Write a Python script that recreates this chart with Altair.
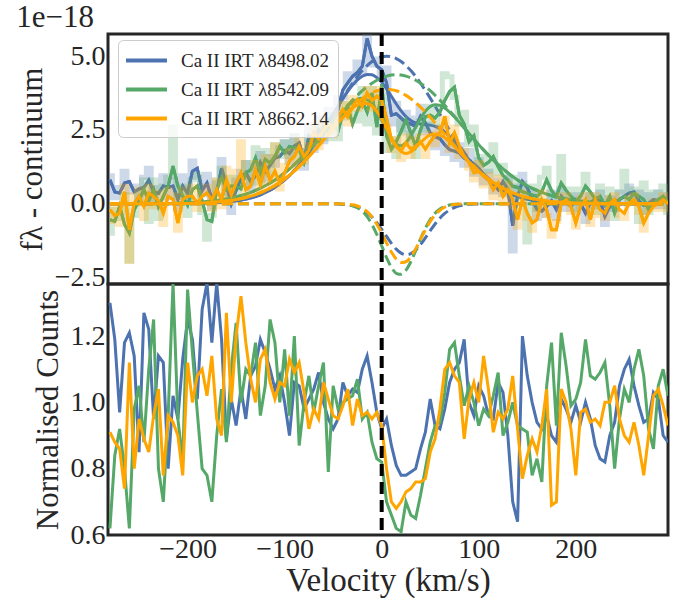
import altair as alt
import pandas as pd

LABELS = ["Ca II IRT λ8498.02", "Ca II IRT λ8542.09", "Ca II IRT λ8662.14"]
COLORS = ["#4C72B0", "#55A868", "#FFA500"]
FONT = "Liberation Serif"
INK = "#262626"

# velocity grid of the measured spectra (km/s)
V_DATA = list(range(-280, 300, 5))
# velocity grid of the fitted curves
V_FIT = list(range(-280, -50, 10)) + list(range(-55, 100, 5)) + list(range(100, 300, 10))
ZERO_LINE = [0]

# ---------------- top panel: flux - continuum (x 1e-18) ----------------
TOP_BLUE = [0.81, 0.40, 0.36, 0.70, 0.75, 0.40, 0.50, 0.55, 0.80, 0.40,
            0.35, 0.60, 0.55, 0.60, 0.15, 0.60, 0.35, 1.10, 1.20, 0.45,
            0.70, 0.15, 0.40, 1.20, 0.65, 0.00, 0.45, 0.85, 1.05, 0.75,
            0.95, 1.40, 1.10, 1.30, 1.55, 1.60, 1.80, 1.70, 1.95, 2.06,
            1.49, 2.28, 2.10, 2.51, 2.35, 2.85, 2.70, 3.19, 3.86, 4.09,
            4.32, 4.45, 4.66, 5.60, 5.00, 4.66, 4.54, 4.09, 3.00, 3.05,
            2.90, 2.75, 2.70, 2.62, 2.96, 2.74, 2.40, 2.28, 2.20, 2.00,
            1.83, 1.78, 1.72, 1.55, 1.45, 1.35, 1.20, 1.00, 0.85, 0.70,
            0.48, 0.75, 0.50, -0.75, 0.25, 0.75, 0.55, 0.14, -0.20, -0.25,
            -0.09, 0.10, -0.20, 0.25, 0.05, -0.09, 0.14, 0.00, -0.32, 0.05,
            0.14, 0.10, -0.43, -0.09, 0.05, 0.14, 0.25, 0.36, 0.40, 0.10,
            -0.05, 0.02, 0.14, 0.10, 0.14, 0.05]
TOP_GREEN = [-0.54, -0.60, -0.09, -0.70, -0.99, -0.20, 0.10, 0.48, 0.10, 0.48,
             -0.10, 0.25, 0.60, 1.27, 0.60, 0.25, -0.05, 0.48, 0.60, 0.10,
             -0.54, -0.60, 0.48, 0.90, 0.48, 0.60, 0.59, 0.50, 1.04, 1.15,
             1.55, 1.04, 1.50, 1.38, 1.60, 1.94, 1.72, 1.94, 1.90, 1.85,
             1.40, 1.95, 2.40, 2.10, 2.60, 2.45, 2.80, 2.45, 3.05, 3.30,
             2.70, 3.15, 3.50, 3.10, 3.75, 2.60, 4.05, 2.30, 1.85, 2.10,
             2.45, 2.85, 2.40, 1.95, 2.50, 2.95, 3.00, 2.90, 3.10, 3.50,
             3.80, 3.95, 3.00, 2.70, 2.10, 2.30, 1.55, 1.30, 1.40, 1.60,
             1.25, 0.95, 0.80, 0.59, 0.55, 0.40, 0.36, 0.30, 0.25, 0.40,
             0.81, 0.45, 0.25, 0.70, 0.45, 0.25, 0.10, 0.25, 0.60, 0.40,
             0.15, 0.25, -0.05, 0.25, -0.32, 0.14, 0.25, 0.14, 0.36, 0.25,
             0.14, -0.20, 0.02, 0.14, 0.25, 0.02]
TOP_ORANGE = [-0.20, -0.40, -0.32, 0.40, -0.88, 0.02, 0.25, -0.09, 0.36, 0.25,
              0.10, -0.32, 0.25, 0.14, -0.65, 0.14, 0.25, 0.25, 0.02, 0.25,
              0.36, 0.14, 0.48, 0.14, 0.81, 0.30, 0.70, 1.04, 0.48, 0.59,
              1.15, 0.65, 1.27, 0.80, 1.10, 0.70, 1.04, 1.45, 1.60, 1.94,
              1.60, 1.80, 2.40, 2.20, 2.50, 2.74, 2.55, 2.90, 3.19, 2.95,
              3.30, 3.53, 3.30, 3.75, 3.50, 3.64, 3.50, 2.90, 2.17, 1.94,
              1.80, 2.06, 1.85, 1.95, 2.10, 1.85, 2.10, 2.30, 2.40, 2.96,
              2.06, 2.40, 1.95, 1.60, 1.40, 1.05, 1.10, 0.93, 0.81, 0.48,
              0.70, 0.25, 0.48, 0.14, -0.54, 0.14, -0.32, -0.65, -0.54, 0.14,
              -0.20, -0.88, -0.88, 0.02, 0.14, -0.09, -0.65, -0.09, 0.14, -0.54,
              0.14, -0.20, -0.32, 0.02, 0.14, -0.20, -0.32, 0.02, 0.14, -0.09,
              -0.65, -0.32, -0.09, 0.02, 0.14, 0.00]

# faint, unbinned spectra (same velocity grid, drawn as steps)
RAW_BLUE = [0.95, 0.20, 0.55, 1.10, 0.40, 0.60, 0.15, 0.90, 1.20, 0.10,
            0.55, 0.95, 0.20, 0.85, -0.20, 0.95, 0.15, 1.45, 0.90, 0.30,
            1.00, -0.15, 0.70, 1.50, 0.35, -0.30, 0.80, 1.10, 1.40, 0.50,
            1.30, 1.70, 0.80, 1.60, 1.30, 1.90, 2.10, 1.40, 2.30, 1.80,
            1.20, 2.60, 1.80, 2.90, 2.10, 3.20, 2.40, 3.60, 3.60, 4.40,
            4.10, 4.80, 4.40, 5.70, 4.70, 4.90, 4.30, 4.60, 2.70, 3.40,
            2.50, 3.10, 2.30, 2.90, 3.30, 2.40, 2.70, 1.90, 2.60, 1.70,
            2.20, 1.50, 2.00, 1.30, 1.80, 1.00, 1.50, 0.70, 1.10, 0.40,
            0.80, 0.30, 0.90, -1.60, 0.60, 1.00, 0.20, 0.40, -0.50, 0.10,
            -0.40, 0.40, -0.50, 0.50, -0.20, 0.30, -0.30, 0.30, -0.60, 0.30,
            -0.10, 0.40, -0.70, 0.20, -0.20, 0.40, 0.00, 0.60, 0.10, 0.40,
            -0.30, 0.30, -0.10, 0.40, -0.10, 0.30]
RAW_GREEN = [-1.00, -0.20, -0.50, 0.30, -1.95, -0.40, 0.40, 0.80, -0.60, 0.80,
             -0.50, 0.60, 0.90, 2.60, 0.20, 0.60, -0.40, 0.80, 1.00, -0.30,
             -1.20, -0.40, 0.80, 1.20, 0.10, 0.90, 0.20, 0.90, 1.40, 0.70,
             1.90, 0.70, 1.80, 1.00, 2.00, 1.60, 2.10, 1.60, 2.30, 1.50,
             1.80, 2.30, 2.00, 2.60, 2.80, 2.20, 3.00, 2.20, 3.40, 2.90,
             3.10, 2.80, 3.90, 2.70, 3.90, 2.40, 3.80, 1.80, 2.20, 1.60,
             2.80, 2.40, 2.10, 1.60, 2.80, 2.50, 3.30, 2.70, 3.30, 4.40,
             4.30, 3.60, 2.70, 3.10, 2.00, 2.60, 1.30, 1.60, 1.10, 2.00,
             1.00, 1.30, 0.40, 0.90, 0.20, 0.70, -1.30, 0.60, -0.20, 0.90,
             1.20, 0.00, 0.30, 1.60, 0.10, 0.50, -0.20, 0.50, 1.00, 0.20,
             -0.30, 0.60, 0.20, 0.50, -0.50, 0.40, 1.10, 0.00, 0.50, -0.60,
             0.70, -0.30, 0.40, 0.20, 0.60, -0.30]
RAW_ORANGE = [-0.60, -0.10, -0.70, 0.60, -1.95, 0.30, 0.50, -0.50, 0.60, -0.10,
              0.40, -0.70, 0.50, 0.30, -0.90, 0.50, 0.30, 0.60, -0.20, 0.40,
              0.60, -0.20, 0.80, -0.10, 1.20, 0.10, 1.10, 2.10, 0.30, 0.90,
              1.40, 0.40, 1.60, 0.60, 2.00, 0.50, 1.30, 1.80, 1.20, 2.20,
              1.40, 2.00, 2.70, 1.90, 2.80, 2.50, 2.30, 3.10, 3.40, 2.70,
              3.60, 3.20, 3.50, 3.90, 3.20, 3.90, 3.20, 2.60, 1.80, 2.20,
              1.50, 2.30, 1.60, 2.20, 2.30, 1.60, 2.40, 2.00, 2.60, 2.90,
              1.80, 2.60, 1.60, 1.80, 1.20, 0.80, 1.40, 0.60, 1.00, 0.20,
              0.90, 0.00, 0.70, -0.10, -0.80, 0.40, -0.50, -0.90, -0.20, 0.40,
              -0.40, -1.10, -0.60, 0.30, 0.30, -0.30, -0.80, 0.20, 0.30, -0.70,
              0.30, -0.40, -0.50, 0.20, 0.30, -0.40, -0.50, 0.20, 0.30, -0.30,
              -0.90, -0.10, 0.10, -0.20, 0.30, -0.20]

# fitted curves: total model, emission component, absorption component
FIT_BLUE = [0, 0, 0, 0, 0, 0.001, 0.001, 0.002, 0.005, 0.009, 0.017, 0.032, 0.056,
            0.094, 0.155, 0.246, 0.378, 0.562, 0.808, 1.125, 1.515, 1.973, 2.487,
            2.756, 3.029, 3.298, 3.559, 3.802, 4.017, 4.194, 4.318, 4.377, 4.366,
            4.274, 4.112, 3.893, 3.639, 3.379, 3.145, 2.95, 2.817, 2.737, 2.699,
            2.683, 2.662, 2.62, 2.544, 2.428, 2.277, 2.096, 1.899, 1.696, 1.494, 1.301,
            1.12, 0.807, 0.562, 0.378, 0.246, 0.155, 0.094, 0.056, 0.032, 0.017,
            0.009, 0.005, 0.002, 0.001, 0, 0, 0, 0, 0, 0]
EMI_BLUE = [0, 0, 0, 0, 0, 0.001, 0.001, 0.002, 0.005, 0.009, 0.017, 0.032, 0.056,
            0.094, 0.155, 0.246, 0.378, 0.562, 0.808, 1.125, 1.515, 1.973, 2.488,
            2.758, 3.033, 3.307, 3.577, 3.838, 4.083, 4.309, 4.51, 4.68, 4.82,
            4.918, 4.98, 5.0, 4.98, 4.918, 4.82, 4.68, 4.51, 4.309, 4.083,
            3.838, 3.577, 3.307, 3.033, 2.758, 2.488, 2.224, 1.973, 1.736, 1.515, 1.311,
            1.125, 0.808, 0.562, 0.378, 0.246, 0.155, 0.094, 0.056, 0.032, 0.017,
            0.009, 0.005, 0.002, 0.001, 0, 0, 0, 0, 0, 0]
ABS_BLUE = [0, 0, 0, 0, 0, 0, 0, 0, 0, 0, 0, 0, 0,
            0, 0, 0, 0, 0, 0, 0, 0, 0, -0.001,
            -0.002, -0.004, -0.009, -0.018, -0.036, -0.066, -0.115, -0.192, -0.303, -0.454,
            -0.644, -0.868, -1.107, -1.341, -1.539, -1.675, -1.73, -1.693, -1.572, -1.384,
            -1.155, -0.915, -0.687, -0.489, -0.33, -0.211, -0.128, -0.074, -0.04, -0.021, -0.01,
            -0.005, -0.001, 0, 0, 0, 0, 0, 0, 0, 0,
            0, 0, 0, 0, 0, 0, 0, 0, 0, 0]
FIT_GREEN = [0.0, 0.001, 0.001, 0.002, 0.004, 0.007, 0.011, 0.018, 0.03, 0.046, 0.072, 0.108, 0.159,
             0.23, 0.324, 0.449, 0.609, 0.806, 1.045, 1.326, 1.647, 2.0, 2.377,
             2.569, 2.763, 2.954, 3.134, 3.303, 3.441, 3.537, 3.572, 3.524, 3.38,
             3.142, 2.837, 2.5, 2.206, 2.014, 1.966, 2.071, 2.3, 2.592, 2.89,
             3.134, 3.292, 3.354, 3.332, 3.243, 3.104, 2.94, 2.757, 2.567, 2.376, 2.187,
             2.0, 1.647, 1.326, 1.045, 0.806, 0.609, 0.449, 0.324, 0.23, 0.159,
             0.108, 0.072, 0.046, 0.03, 0.018, 0.011, 0.007, 0.004, 0.002, 0.001]
EMI_GREEN = [0.0, 0.001, 0.001, 0.002, 0.004, 0.007, 0.011, 0.018, 0.03, 0.046, 0.072, 0.108, 0.159,
             0.23, 0.324, 0.449, 0.609, 0.806, 1.045, 1.326, 1.647, 2.0, 2.377,
             2.57, 2.765, 2.959, 3.148, 3.335, 3.51, 3.675, 3.828, 3.965, 4.084,
             4.185, 4.265, 4.323, 4.358, 4.37, 4.358, 4.323, 4.265, 4.185, 4.084,
             3.965, 3.828, 3.675, 3.51, 3.335, 3.148, 2.959, 2.765, 2.57, 2.377, 2.187,
             2.0, 1.647, 1.326, 1.045, 0.806, 0.609, 0.449, 0.324, 0.23, 0.159,
             0.108, 0.072, 0.046, 0.03, 0.018, 0.011, 0.007, 0.004, 0.002, 0.001]
ABS_GREEN = [0, 0, 0, 0, 0, 0, 0, 0, 0, 0, 0, 0, 0,
             0, 0, 0, 0, 0, 0, 0, 0, 0, 0,
             -0.001, -0.002, -0.005, -0.014, -0.032, -0.069, -0.138, -0.256, -0.441, -0.704,
             -1.043, -1.428, -1.823, -2.152, -2.356, -2.392, -2.252, -1.965, -1.593, -1.194,
             -0.831, -0.536, -0.321, -0.178, -0.092, -0.044, -0.019, -0.008, -0.003, -0.001, 0,
             0, 0, 0, 0, 0, 0, 0, 0, 0, 0,
             0, 0, 0, 0, 0, 0, 0, 0, 0, 0]
FIT_ORANGE = [0, 0, 0, 0.001, 0.001, 0.002, 0.003, 0.006, 0.011, 0.02, 0.034, 0.055, 0.089,
              0.138, 0.209, 0.309, 0.443, 0.619, 0.84, 1.108, 1.422, 1.776, 2.159,
              2.353, 2.548, 2.739, 2.922, 3.09, 3.235, 3.346, 3.406, 3.399, 3.31,
              3.13, 2.869, 2.554, 2.23, 1.952, 1.769, 1.704, 1.757, 1.894, 2.067,
              2.224, 2.329, 2.364, 2.328, 2.233, 2.099, 1.938, 1.764, 1.591, 1.42, 1.263,
              1.108, 0.84, 0.619, 0.443, 0.309, 0.209, 0.138, 0.089, 0.055, 0.034,
              0.02, 0.011, 0.006, 0.003, 0.002, 0.001, 0, 0, 0, 0]
EMI_ORANGE = [0, 0, 0, 0.001, 0.001, 0.002, 0.003, 0.006, 0.011, 0.02, 0.034, 0.055, 0.089,
              0.138, 0.209, 0.309, 0.443, 0.619, 0.84, 1.108, 1.422, 1.776, 2.159,
              2.353, 2.549, 2.742, 2.929, 3.107, 3.273, 3.424, 3.557, 3.67, 3.761,
              3.826, 3.866, 3.88, 3.866, 3.826, 3.761, 3.67, 3.557, 3.424, 3.273,
              3.107, 2.929, 2.742, 2.549, 2.353, 2.159, 1.966, 1.776, 1.596, 1.422, 1.263,
              1.108, 0.84, 0.619, 0.443, 0.309, 0.209, 0.138, 0.089, 0.055, 0.034,
              0.02, 0.011, 0.006, 0.003, 0.002, 0.001, 0, 0, 0, 0]
ABS_ORANGE = [0, 0, 0, 0, 0, 0, 0, 0, 0, 0, 0, 0, 0,
              0, 0, 0, 0, 0, 0, 0, 0, 0, 0,
              0, -0.001, -0.003, -0.007, -0.017, -0.038, -0.078, -0.151, -0.271, -0.451,
              -0.696, -0.997, -1.326, -1.636, -1.874, -1.992, -1.966, -1.8, -1.53, -1.206,
              -0.883, -0.6, -0.378, -0.221, -0.12, -0.06, -0.028, -0.012, -0.005, -0.002, 0,
              0, 0, 0, 0, 0, 0, 0, 0, 0, 0,
              0, 0, 0, 0, 0, 0, 0, 0, 0, 0]

# ---------------- bottom panel: normalised counts ----------------
BOT_BLUE = [1.30, 1.19, 0.97, 1.18, 1.21, 1.14, 0.85, 1.27, 1.22, 0.95,
            1.14, 1.12, 0.80, 1.02, 0.95, 1.13, 1.25, 1.19, 1.01, 1.28,
            1.36, 1.18, 1.36, 1.19, 0.89, 1.01, 0.93, 1.04, 0.95, 1.08,
            1.11, 1.19, 1.15, 1.10, 1.04, 1.08, 1.00, 0.90, 1.06, 1.05,
            0.98, 1.01, 1.04, 1.09, 1.00, 0.95, 0.92, 0.95, 1.06, 1.02,
            1.04, 1.03, 1.10, 1.14, 1.06, 0.97, 0.92, 0.95, 0.87, 0.81,
            0.78, 0.78, 0.79, 0.80, 0.86, 0.91, 1.01, 0.93, 0.92, 0.98,
            1.06, 1.10, 1.12, 1.19, 1.00, 0.96, 1.05, 1.02, 0.96, 0.95,
            1.06, 1.03, 0.90, 0.70, 0.64, 1.20, 1.08, 1.00, 0.94, 0.92,
            0.96, 0.90, 0.88, 1.01, 0.98, 0.94, 0.99, 0.94, 1.00, 0.95,
            0.87, 0.83, 0.82, 0.90, 0.94, 1.05, 1.10, 1.13, 1.05, 0.99,
            0.94, 0.95, 1.03, 1.01, 0.90, 0.88]
BOT_GREEN = [0.62, 0.84, 0.92, 0.80, 0.62, 0.98, 1.05, 0.88, 1.10, 1.25,
             0.80, 0.70, 0.96, 1.36, 0.95, 0.82, 1.34, 1.15, 0.97, 0.80,
             0.78, 0.70, 0.90, 1.04, 0.88, 1.10, 1.24, 1.00, 1.10, 1.08,
             1.18, 0.96, 1.05, 1.25, 1.18, 1.00, 1.16, 0.96, 1.20, 0.87,
             1.00, 1.08, 0.97, 1.05, 1.12, 0.79, 1.05, 0.98, 1.00, 1.01,
             1.02, 1.07, 0.95, 0.97, 0.88, 0.83, 0.82, 0.70, 0.66, 0.62,
             0.61, 0.70, 0.66, 0.65, 0.72, 0.80, 0.88, 0.93, 0.94, 1.03,
             1.16, 1.18, 1.08, 0.99, 1.05, 1.00, 0.93, 0.98, 0.96, 1.02,
             1.09, 0.90, 0.94, 1.00, 0.93, 0.92, 0.91, 0.78, 0.83, 0.76,
             1.05, 1.18, 0.93, 1.21, 1.11, 0.99, 1.01, 1.06, 1.19, 1.08,
             1.07, 1.09, 1.12, 0.99, 0.80, 0.95, 1.04, 1.00, 1.10, 1.16,
             1.08, 0.92, 0.86, 1.05, 1.10, 1.02]
BOT_ORANGE = [0.91, 0.88, 0.86, 0.74, 1.12, 0.80, 0.95, 0.89, 0.85, 0.96,
              1.04, 0.78, 0.96, 0.94, 0.90, 0.78, 1.12, 1.00, 1.08, 1.10,
              1.02, 1.14, 0.95, 0.90, 1.27, 1.00, 1.20, 1.32, 1.18, 1.07,
              1.00, 1.13, 1.16, 1.06, 1.01, 1.06, 1.05, 1.13, 1.09, 1.12,
              1.03, 0.92, 0.98, 0.95, 1.06, 1.01, 0.96, 0.95, 0.99, 1.04,
              0.93, 1.01, 0.96, 0.97, 0.95, 0.97, 0.93, 0.80, 0.70, 0.68,
              0.70, 0.73, 0.74, 0.76, 0.76, 0.77, 0.85, 0.89, 0.98, 1.10,
              1.12, 1.08, 1.06, 0.89, 1.01, 1.06, 1.00, 1.14, 1.04, 0.91,
              0.97, 0.95, 0.98, 1.08, 0.92, 0.77, 0.84, 0.89, 0.85, 0.93,
              1.04, 0.69, 0.70, 1.04, 1.00, 0.92, 0.78, 0.97, 0.98, 0.94,
              0.95, 0.93, 1.00, 1.00, 1.05, 0.95, 0.90, 0.88, 0.94, 0.87,
              0.78, 0.90, 1.02, 1.04, 0.99, 0.93]

X_DOMAIN = [-282, 295]
TOP_DOMAIN = [-2.72, 5.75]
BOT_DOMAIN = [0.6, 1.357]
TOP_TICKS = [-2.5, 0.0, 2.5, 5.0]
BOT_TICKS = [0.6, 0.8, 1.0, 1.2]
X_TICKS = [-200, -100, 0, 100, 200]

W, H_TOP, H_BOT = 560, 250, 251


def frame(xs, ys):
    return pd.DataFrame({"v": xs, "y": ys})


xs = alt.Scale(domain=X_DOMAIN, nice=False, zero=False)
ys_top = alt.Scale(domain=TOP_DOMAIN, nice=False, zero=False)
ys_bot = alt.Scale(domain=BOT_DOMAIN, nice=False, zero=False)

top_y_axis = alt.Axis(values=TOP_TICKS, format=".1f", title="fλ - continuum",
                      titlePadding=6)
bot_y_axis = alt.Axis(values=BOT_TICKS, format=".1f", title="Normalised Counts",
                      titlePadding=6)
x_axis = alt.Axis(values=X_TICKS, format="d", title="Velocity (km/s)",
                  labelPadding=0, titlePadding=1, titleFontSize=33)


def xenc(axis=None):
    return alt.X("v:Q", scale=xs, axis=axis)


def top_line(df, color, **kw):
    return alt.Chart(df).mark_line(color=color, clip=True, **kw).encode(
        x=xenc(), y=alt.Y("y:Q", scale=ys_top, axis=top_y_axis))


# legend layer (drawn first, all three measured spectra)
legend_df = pd.concat([
    pd.DataFrame({"v": V_DATA, "y": arr, "series": lab})
    for arr, lab in zip([TOP_BLUE, TOP_GREEN, TOP_ORANGE], LABELS)
])
legend_layer = alt.Chart(legend_df).mark_line(strokeWidth=3, clip=True).encode(
    x=xenc(),
    y=alt.Y("y:Q", scale=ys_top, axis=top_y_axis),
    color=alt.Color("series:N", scale=alt.Scale(domain=LABELS, range=COLORS),
                    legend=alt.Legend(title=None, orient="none", legendX=10, legendY=6,
                                      symbolType="M-1.95,0H1.95", symbolStrokeWidth=4,
                                      symbolSize=441, symbolOffset=8,
                                      labelFontSize=19, labelFont=FONT,
                                      labelColor=INK, fillColor="rgba(255,255,255,0.8)",
                                      strokeColor="#cccccc", cornerRadius=5, padding=8,
                                      rowPadding=6, labelOffset=22, labelLimit=400,
                                      symbolOpacity=1)),
    detail="series:N",
)

top_layers = [legend_layer]
for col, raw, dat, fit, emi, ab in [
    (COLORS[0], RAW_BLUE, TOP_BLUE, FIT_BLUE, EMI_BLUE, ABS_BLUE),
    (COLORS[1], RAW_GREEN, TOP_GREEN, FIT_GREEN, EMI_GREEN, ABS_GREEN),
    (COLORS[2], RAW_ORANGE, TOP_ORANGE, FIT_ORANGE, EMI_ORANGE, ABS_ORANGE),
]:
    top_layers.append(top_line(frame(V_DATA, raw), col, strokeWidth=5, opacity=0.28,
                               interpolate="step"))
    top_layers.append(top_line(frame(V_DATA, dat), col, strokeWidth=3))
    top_layers.append(top_line(frame(V_FIT, fit), col, strokeWidth=3, interpolate="monotone"))
    top_layers.append(top_line(frame(V_FIT, emi), col, strokeWidth=3, strokeDash=[11, 5],
                               interpolate="monotone"))
    top_layers.append(top_line(frame(V_FIT, ab), col, strokeWidth=3, strokeDash=[11, 5],
                               interpolate="monotone"))

zero_df = pd.DataFrame({"v": ZERO_LINE})
top_layers.append(alt.Chart(zero_df).mark_rule(color="black", strokeWidth=4,
                                                strokeDash=[12, 6]).encode(x=xenc()))

top = alt.layer(*top_layers).properties(
    width=W, height=H_TOP,
    title=alt.Title("1e\u221218", anchor="start", fontSize=31, font=FONT,
                    fontWeight="normal", color=INK, offset=-2),
)

bot_layers = []
for col, arr in zip(COLORS, [BOT_BLUE, BOT_GREEN, BOT_ORANGE]):
    bot_layers.append(
        alt.Chart(frame(V_DATA, arr)).mark_line(color=col, strokeWidth=3, clip=True).encode(
            x=xenc(x_axis), y=alt.Y("y:Q", scale=ys_bot, axis=bot_y_axis)))
bot_layers.append(alt.Chart(zero_df).mark_rule(color="black", strokeWidth=4,
                                                strokeDash=[12, 6]).encode(x=xenc(x_axis)))
bottom = alt.layer(*bot_layers).properties(width=W, height=H_BOT)

chart = alt.vconcat(top, bottom, spacing=0, bounds="flush").resolve_legend(
    color="independent"
).properties(
    padding={"left": 14, "top": 0, "right": 5, "bottom": 0}
).configure_view(
    stroke=INK, strokeWidth=3
).configure_axis(
    labelFont=FONT, titleFont=FONT, labelFontSize=28, titleFontSize=31,
    labelColor=INK, titleColor=INK, ticks=False, domain=False, grid=False,
    labelPadding=3, titleFontWeight="normal",
)

chart.save("out.html", embed_options={"renderer": "svg", "actions": False})
